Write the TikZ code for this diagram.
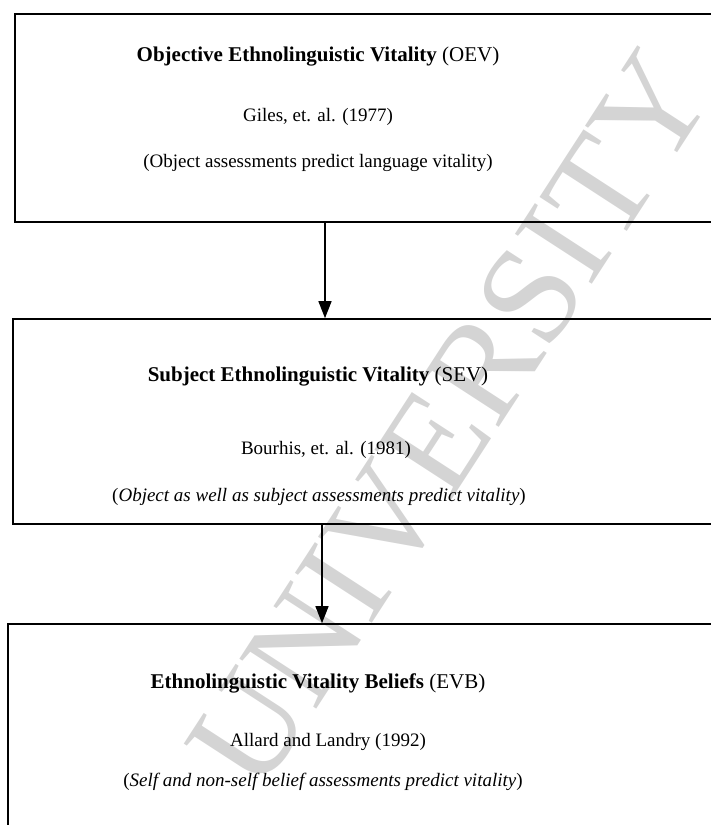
\documentclass[tikz,border=0pt]{standalone}
\usepackage{fontspec}
\setmainfont{Liberation Serif}
\usetikzlibrary{arrows.meta,positioning}

\tikzset{
  vbox/.style={draw, line width=1.6pt, minimum width=720pt, inner sep=0pt},
  headline/.style={font=\fontsize{21}{25}\selectfont, inner sep=0pt},
  subline/.style={font=\fontsize{19}{22}\selectfont, inner sep=0pt},
  flow/.style={line width=1.4pt, -{Triangle[width=13pt,length=17pt]}},
  stamp/.style={font=\fontsize{140}{140}\selectfont, text=black!17, rotate=57},
}

\begin{document}
\begin{tikzpicture}[x=1pt,y=-1pt]
  \clip (0,0) rectangle (711,825);
  \node[stamp] (mark) at (450,420) {UNIVERSITY};
  %
  \node[vbox, minimum height=208pt] (oev) at (375,118) {};
  \node[vbox, minimum height=205pt] (sev) at (373,421.5) {};
  \node[vbox, minimum height=260pt] (evb) at (368,754) {};
  %
  \node[headline] (oevT) at (318,57) {\textbf{Objective Ethnolinguistic Vitality} (OEV)};
  \node[subline]  (oevA) at (318,117) {Giles, et. al. (1977)};
  \node[subline]  (oevN) at (318,163) {(Object assessments predict language vitality)};
  %
  \node[headline] (sevT) at (318,377) {\textbf{Subject Ethnolinguistic Vitality} (SEV)};
  \node[subline]  (sevA) at (326,450) {Bourhis, et. al. (1981)};
  \node[subline]  (sevN) at (319,497) {(\textit{Object as well as subject assessments predict vitality})};
  %
  \node[headline] (evbT) at (318,683) {\textbf{Ethnolinguistic Vitality Beliefs} (EVB)};
  \node[subline]  (evbA) at (328,742) {Allard and Landry (1992)};
  \node[subline]  (evbN) at (323,782) {(\textit{Self and non-self belief assessments predict vitality})};
  %
  \coordinate (c1) at (325,0);
  \coordinate (c2) at (322,0);
  \draw[flow] (oev.south -| c1) -- (sev.north -| c1);
  \draw[flow] (sev.south -| c2) -- (evb.north -| c2);
\end{tikzpicture}
\end{document}
